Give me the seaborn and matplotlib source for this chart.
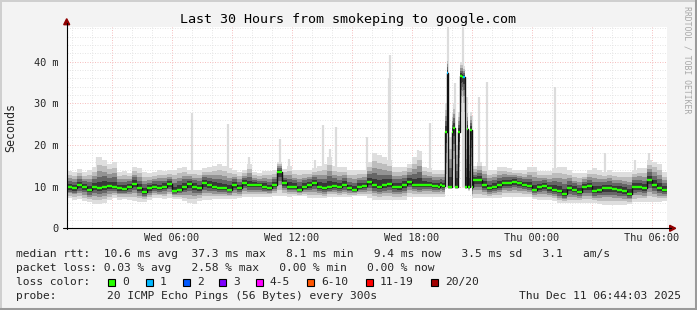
import numpy as np
import pandas as pd
import matplotlib
matplotlib.use("Agg")
import matplotlib.pyplot as plt
import seaborn as sns
from matplotlib.patches import Rectangle, Polygon
from matplotlib.lines import Line2D

# ---------------- data (values in milliseconds, time in minutes from Wed 00:44) ----------------
# coarse part A: 15-minute steps starting at minute 0
med_a = [9.8, 9.6, 10.3, 10.0, 9.2, 9.9, 9.6, 10.0, 10.1, 10.0, 9.6, 9.5, 10.0, 10.7, 9.6, 8.8, 9.6, 10.0, 9.6, 10.0, 10.6,
         9.0, 9.3, 10.0, 10.6, 10.0, 9.6, 10.8, 10.4, 10.0, 9.6, 9.6, 9.3, 10.4, 9.6, 10.9, 10.4, 10.4, 10.4, 10.0, 9.7,
         10.4, 13.6, 10.8, 10.0, 10.0, 9.3, 10.0, 10.4, 10.8, 10.0, 9.6, 10.0, 10.1, 9.8, 10.4, 9.6, 9.2, 10.0, 10.2,
         11.2,
         10.4, 10.0, 10.4, 10.6, 10.0, 9.9, 10.4, 11.2, 10.4, 10.4, 10.4, 10.4, 10.2]
hi_a = [13.8, 13.5, 14.2, 13.5, 14.0, 14.7, 17.0, 16.5, 15.5, 15.9, 13.5, 13.8, 13.3, 14.7, 14.5, 13.5, 13.2, 13.5, 14.0, 13.8, 13.9,
        14.0, 14.5, 14.7, 14.0, 13.9, 14.0, 14.5, 14.7, 15.0, 15.5, 15.0, 14.5, 13.9, 13.5, 14.0, 15.5, 13.5, 13.2, 13.8, 13.7,
        14.0, 16.0, 14.3, 15.0, 13.9, 13.9, 13.9, 14.0, 14.5, 15.0, 15.5, 17.0, 15.0, 14.7, 14.7, 13.9, 13.9, 13.9, 13.9,
        16.0,
        18.0, 17.5, 17.0, 16.5, 14.8, 14.8, 14.8, 15.5, 17.2, 18.5, 14.8, 14.5, 14.0]
lo_a = [7.2, 6.9, 7.0, 6.5, 6.3, 5.9, 5.8, 6.0, 6.8, 7.2, 6.9, 7.0, 6.8, 6.6, 6.4, 6.3, 6.8, 7.2, 7.3, 7.0, 7.3,
        7.0, 7.0, 6.5, 6.0, 5.9, 6.5, 6.7, 6.8, 7.0, 7.0, 7.1, 7.1, 7.0, 7.2, 7.5, 7.5, 7.5, 7.4, 7.5, 7.6,
        7.7, 7.7, 7.7, 7.6, 7.7, 7.7, 7.7, 7.2, 7.2, 7.2, 7.2, 7.5, 7.5, 7.4, 7.5, 7.6, 7.7, 7.7, 7.7,
        7.2,
        6.8, 6.8, 6.9, 6.8, 6.8, 6.7, 6.8, 7.6, 7.6, 7.5, 7.6, 7.6, 7.6]
# fine part: 5-minute steps starting at minute 1110 (the spike period)
med_f = [10.2, 10.0, 10.4, 10.1, 10.2, 23.2, 37.3, 10.0, 10.0, 23.0, 24.2, 10.0,
         10.0, 23.0, 36.5, 36.4, 36.4, 10.0, 23.8, 10.0, 23.6, 10.0, 11.6, 11.6]
hi_f = [14.0, 14.0, 14.0, 14.0, 14.0, 30.0, 41.0, 22.0, 22.0, 28.0, 30.0, 20.0,
        20.0, 28.0, 40.0, 40.0, 39.0, 22.0, 29.0, 20.0, 28.0, 18.0, 15.0, 15.0]
lo_f = [7.6, 7.6, 7.6, 7.6, 7.6, 9.5, 26.0, 9.5, 9.5, 12.0, 14.0, 9.5,
        9.5, 12.0, 28.0, 30.0, 28.0, 9.5, 13.0, 9.0, 12.0, 7.0, 7.2, 7.2]
# coarse part B: 15-minute steps starting at minute 1230
med_b = [11.6, 10.4, 9.6, 10.0, 10.4, 10.9, 10.8, 11.2, 10.8, 10.4, 10.1, 9.3, 9.8, 10.1, 9.6, 9.3, 9.0, 8.2, 9.6,
         9.3, 8.8, 10.0, 10.1, 9.0, 9.2, 9.6, 9.6, 9.4, 9.2, 9.0, 8.3, 10.0, 10.0, 9.6, 11.6, 10.4, 9.6, 9.2]
hi_b = [16.0, 15.0, 14.0, 14.0, 14.8, 14.8, 14.5, 14.0, 14.0, 14.0, 14.8, 14.8, 13.8, 13.8, 13.8, 14.5, 14.8, 14.8, 14.0,
        13.2, 13.2, 13.2, 14.0, 14.4, 14.0, 13.5, 14.0, 13.5, 13.5, 13.5, 13.5, 14.0, 14.5, 14.5, 16.5, 16.0, 15.5, 13.5]
lo_b = [7.2, 7.2, 7.2, 7.2, 7.2, 7.6, 7.6, 7.6, 7.6, 7.6, 7.6, 7.0, 6.8, 6.8, 6.8, 6.5, 6.0, 6.0, 6.0,
        6.0, 6.0, 6.0, 6.0, 6.0, 5.8, 5.6, 5.6, 5.6, 5.6, 5.6, 5.8, 6.2, 6.4, 6.4, 6.4, 6.4, 6.4, 6.6]

# isolated high pings (thin light smoke spikes)
spike_minutes = [90, 377, 484, 547, 640, 666, 745, 770, 790, 808, 901, 967, 971, 1054, 1091,
                 1144, 1165, 1189, 1201, 1216, 1237, 1260, 1465, 1615, 1705, 1747]
spike_tops = [17.0, 27.7, 25.0, 17.2, 21.5, 16.7, 16.5, 24.7, 19.0, 24.3, 22.0, 36.0, 41.7, 18.8, 25.2,
              48.4, 35.0, 48.4, 31.6, 27.0, 31.6, 35.2, 34.0, 18.0, 16.4, 18.0]

# packet loss (pings lost out of 20) where non-zero
loss_minutes = [1140, 1190]
loss_counts = [1, 1]

x_tick_minutes = [316, 676, 1036, 1396, 1756]
x_tick_labels = ["Wed 06:00", "Wed 12:00", "Wed 18:00", "Thu 00:00", "Thu 06:00"]
y_ticks = [0, 10, 20, 30, 40]
y_tick_labels = ["0", "10 m", "20 m", "30 m", "40 m"]

legend_row1 = "median rtt:  10.6 ms avg  37.3 ms max   8.1 ms min   9.4 ms now   3.5 ms sd   3.1   am/s"
legend_row2 = "packet loss: 0.03 % avg   2.58 % max   0.00 % min   0.00 % now"
loss_labels = ["0", "1", "2", "3", "4-5", "6-10", "11-19", "20/20"]
loss_colors = ["#26ff00", "#00b8ff", "#0059ff", "#7e00ff", "#ff00ff", "#ff5500", "#ff0000", "#a10000"]
probe_text = "20 ICMP Echo Pings (56 Bytes) every 300s"
stamp_text = "Thu Dec 11 06:44:03 2025"
title = "Last 30 Hours from smokeping to google.com"

# ---------------- assemble ----------------
t = np.concatenate([np.arange(0, 1110, 15), np.arange(1110, 1230, 5), np.arange(1230, 1800, 15)]).astype(float)
med = np.array(med_a + med_f + med_b)
hi = np.array(hi_a + hi_f + hi_b)
lo = np.array(lo_a + lo_f + lo_b)
t_end = np.append(t[1:], 1800.0)
loss = np.zeros_like(med)
for m, c in zip(loss_minutes, loss_counts):
    loss[np.argmin(np.abs(t - m))] = c

df = pd.DataFrame({"t": np.append(t, 1800.0), "median": np.append(med, med[-1])})

# ---------------- figure ----------------
W, H = 697, 310
sns.set_style("white")
plt.rcParams["font.family"] = ["DejaVu Sans Mono"]
fig = plt.figure(figsize=(W / 100, H / 100), dpi=100, facecolor="#f3f3f3")

def fx(x):
    return x / W

def fy(y):
    return 1 - y / H

L, R, T, B = 66.7, 666.7, 26.7, 228.3
ax = fig.add_axes([fx(L), fy(B), (R - L) / W, (B - T) / H])
ax.set_facecolor("white")
ax.set_xlim(0, 1800)
ax.set_ylim(0, 48.4)
for s in ax.spines.values():
    s.set_visible(False)

# grid (dotted, rrdtool style)
for k in range(30):
    m = 16 + 60 * k
    major = (1 + k) % 3 == 0
    ax.axvline(m, color="#f5b5b5" if major else "#e2e2e2", lw=0.6, ls=(0, (1.2, 1.8)), zorder=0)
for v in range(2, 49, 2):
    major = v % 10 == 0
    ax.axhline(v, color="#f5b5b5" if major else "#e2e2e2", lw=0.6, ls=(0, (1.2, 1.8)), zorder=0)

# spikes of isolated high pings
ax.vlines(spike_minutes, 10, spike_tops, color="#dcdcdc", lw=1.6, zorder=1)

# smoke bands
fracs = [1.0, 0.75, 0.55, 0.38, 0.2]
greys = ["#dedede", "#bdbdbd", "#939393", "#666666", "#383838"]
te = np.append(t, 1800.0)
for f, g in zip(fracs, greys):
    top = med + f * (hi - med)
    bot = med - f * (med - lo)
    ax.fill_between(te, np.append(bot, bot[-1]), np.append(top, top[-1]), step="post",
                    color=g, lw=0, zorder=2)

# median: black step line + loss-coloured segments
sns.lineplot(data=df, x="t", y="median", ax=ax, drawstyle="steps-post", color="#111111",
             lw=1.0, estimator=None, sort=False, zorder=3)
bins = [0, 1, 2, 3, 5, 10, 19, 20]
seg_cols = [loss_colors[int(np.searchsorted(bins, c))] for c in loss]
ax.hlines(med, t, t_end, colors=seg_cols, lw=1.7, zorder=4)

ax.set_xlabel("")
ax.set_ylabel("")
ax.set_xticks(x_tick_minutes)
ax.set_xticklabels(x_tick_labels)
ax.set_yticks(y_ticks)
ax.set_yticklabels(y_tick_labels)
ax.tick_params(axis="both", length=2.2, width=0.7, color="#999999", labelsize=7.4)
ax.tick_params(axis="x", pad=1.5)
ax.tick_params(axis="y", pad=3.5)

# axis lines with arrows
axc = "#900000"
fig.add_artist(Line2D([fx(L), fx(L)], [fy(B + 1), fy(T - 4)], color="black", lw=0.8))
fig.add_artist(Line2D([fx(L - 4), fx(R + 4)], [fy(B), fy(B)], color="black", lw=0.8))
fig.add_artist(Polygon([[fx(L - 3), fy(T - 2)], [fx(L + 3), fy(T - 2)], [fx(L), fy(T - 8)]],
                       closed=True, color=axc, transform=fig.transFigure))
fig.add_artist(Polygon([[fx(R + 3), fy(B - 3)], [fx(R + 3), fy(B + 3)], [fx(R + 9), fy(B)]],
                       closed=True, color=axc, transform=fig.transFigure))

# frame
fig.add_artist(Line2D([0, 1], [fy(0.7), fy(0.7)], color="#cfcfcf", lw=1.4))
fig.add_artist(Line2D([fx(0.7), fx(0.7)], [0, 1], color="#cfcfcf", lw=1.4))
fig.add_artist(Line2D([0, 1], [fy(H - 1), fy(H - 1)], color="#9a9a9a", lw=2.2))
fig.add_artist(Line2D([fx(W - 1), fx(W - 1)], [0, 1], color="#9a9a9a", lw=2.2))

# texts
fig.text(fx(348.5), fy(19), title, ha="center", va="center", fontsize=9.6, color="black")
fig.text(fx(11), fy(127), "Seconds", rotation=90, ha="center", va="center", fontsize=8.4)
fig.text(fx(687), fy(6), "RRDTOOL / TOBI OETIKER", rotation=270, ha="center", va="top",
         fontsize=5.9, color="#a8a8a8")

fs = 8.1
row_y = [254, 268, 282, 296]
fig.text(fx(16), fy(row_y[0]), legend_row1, ha="left", va="center", fontsize=fs)
fig.text(fx(16), fy(row_y[1]), legend_row2, ha="left", va="center", fontsize=fs)
fig.text(fx(16), fy(row_y[2]), "loss color:", ha="left", va="center", fontsize=fs)
sq_x = [108, 146, 183, 219, 256, 307, 366, 431]
for lab, col, x in zip(loss_labels, loss_colors, sq_x):
    fig.add_artist(Rectangle((fx(x), fy(row_y[2] + 4)), 7 / W, 7 / H, transform=fig.transFigure,
                             facecolor=col, edgecolor="black", lw=0.8))
    fig.text(fx(x + 14), fy(row_y[2]), lab, ha="left", va="center", fontsize=fs)
fig.text(fx(16), fy(row_y[3]), "probe:", ha="left", va="center", fontsize=fs)
fig.text(fx(107), fy(row_y[3]), probe_text, ha="left", va="center", fontsize=fs)
fig.text(fx(681), fy(row_y[3]), stamp_text, ha="right", va="center", fontsize=fs)

fig.savefig("out.png", dpi=100, facecolor=fig.get_facecolor())
